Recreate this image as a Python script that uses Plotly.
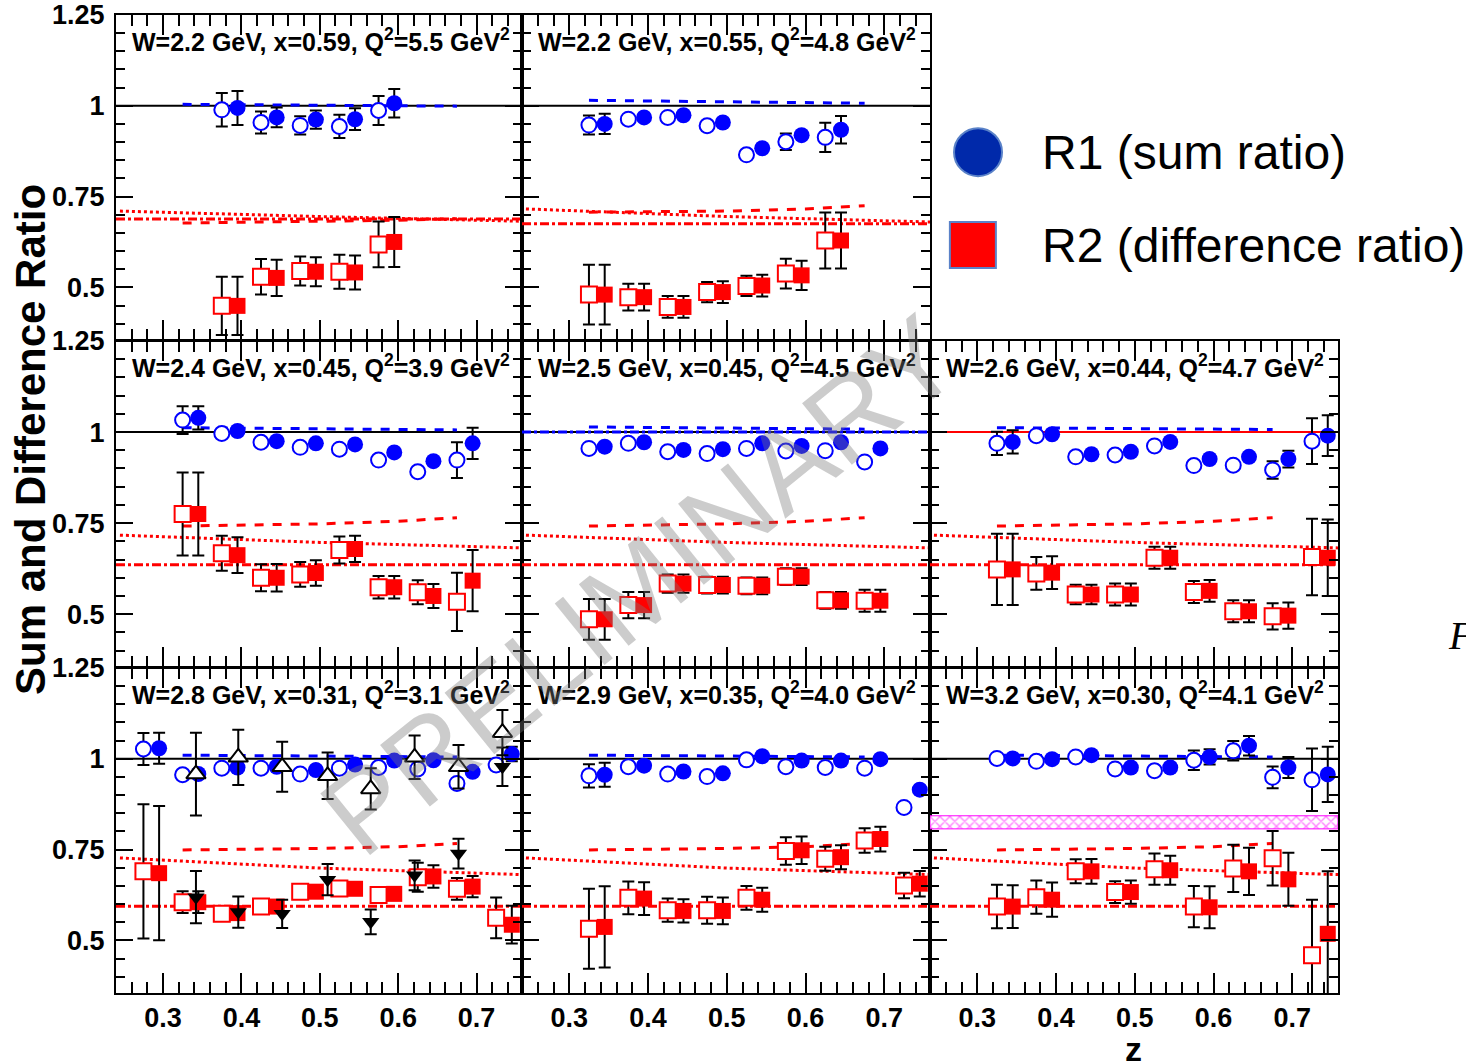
import plotly.graph_objects as go

W_PX, H_PX = 1466, 1061
DZ = 0.02  # filled points drawn slightly right of the open points

# ---------------- data ----------------
# Panel A: W=2.2, x=0.59
Z_A = [0.375, 0.425, 0.475, 0.525, 0.575]
R1O_A = [0.989, 0.954, 0.946, 0.943, 0.987]
R1OE_A = [0.046, 0.030, 0.025, 0.032, 0.040]
R1F_A = [0.994, 0.968, 0.962, 0.963, 1.007]
R1FE_A = [0.047, 0.027, 0.025, 0.030, 0.039]
R2O_A = [0.449, 0.529, 0.545, 0.543, 0.618]
R2OE_A = [0.080, 0.049, 0.040, 0.047, 0.063]
R2F_A = [0.449, 0.526, 0.543, 0.541, 0.625]
R2FE_A = [0.080, 0.050, 0.040, 0.047, 0.069]

# Panel B: W=2.2, x=0.55
Z_B = [0.325, 0.375, 0.425, 0.475, 0.525, 0.575, 0.625]
R1O_B = [0.947, 0.963, 0.968, 0.945, 0.865, 0.901, 0.913]
R1OE_B = [0.026, 0, 0, 0, 0, 0.023, 0.040]
R1F_B = [0.950, 0.968, 0.974, 0.954, 0.883, 0.919, 0.934]
R1FE_B = [0.028, 0, 0, 0, 0, 0, 0.038]
R2O_B = [0.480, 0.473, 0.446, 0.487, 0.504, 0.538, 0.629]
R2OE_B = [0.082, 0.037, 0.030, 0.028, 0.028, 0.041, 0.077]
R2F_B = [0.480, 0.473, 0.446, 0.487, 0.505, 0.533, 0.629]
R2FE_B = [0.082, 0.037, 0.030, 0.030, 0.030, 0.040, 0.077]

# Panel C: W=2.4, x=0.45
Z_C = [0.325, 0.375, 0.425, 0.475, 0.525, 0.575, 0.625, 0.675]
R1O_C = [1.033, 0.996, 0.972, 0.958, 0.953, 0.923, 0.891, 0.923]
R1OE_C = [0.038, 0, 0, 0, 0, 0, 0, 0.049]
R1F_C = [1.039, 1.003, 0.975, 0.969, 0.966, 0.944, 0.920, 0.969]
R1FE_C = [0.032, 0, 0, 0, 0, 0, 0, 0.043]
R2O_C = [0.775, 0.667, 0.600, 0.609, 0.676, 0.574, 0.560, 0.534]
R2OE_C = [0.114, 0.048, 0.037, 0.034, 0.037, 0.031, 0.033, 0.080]
R2F_C = [0.775, 0.662, 0.600, 0.613, 0.679, 0.574, 0.550, 0.592]
R2FE_C = [0.114, 0.049, 0.038, 0.035, 0.036, 0.031, 0.033, 0.084]

# Panel D: W=2.5, x=0.45
Z_D = [0.325, 0.375, 0.425, 0.475, 0.525, 0.575, 0.625, 0.675]
R1O_D = [0.955, 0.969, 0.946, 0.941, 0.955, 0.948, 0.949, 0.918]
R1OE_D = [0, 0, 0, 0, 0, 0, 0, 0]
R1F_D = [0.960, 0.972, 0.951, 0.953, 0.969, 0.962, 0.972, 0.955]
R1FE_D = [0, 0, 0, 0, 0, 0, 0, 0]
R2O_D = [0.486, 0.525, 0.584, 0.580, 0.578, 0.603, 0.538, 0.537]
R2OE_D = [0.056, 0.036, 0.025, 0.023, 0.023, 0.023, 0.023, 0.030]
R2F_D = [0.486, 0.525, 0.584, 0.580, 0.578, 0.603, 0.538, 0.537]
R2FE_D = [0.056, 0.036, 0.025, 0.023, 0.023, 0.023, 0.023, 0.030]

# Panel E: W=2.6, x=0.44
Z_E = [0.325, 0.375, 0.425, 0.475, 0.525, 0.575, 0.625, 0.675, 0.725]
R1O_E = [0.969, 0.990, 0.932, 0.937, 0.962, 0.908, 0.909, 0.896, 0.975]
R1OE_E = [0.032, 0, 0, 0, 0, 0, 0, 0.024, 0.063]
R1F_E = [0.973, 0.994, 0.939, 0.946, 0.973, 0.926, 0.932, 0.926, 0.990]
R1FE_E = [0.032, 0, 0, 0, 0, 0, 0, 0.023, 0.056]
R2O_E = [0.623, 0.612, 0.554, 0.554, 0.655, 0.561, 0.508, 0.494, 0.657]
R2OE_E = [0.098, 0.045, 0.027, 0.030, 0.030, 0.030, 0.030, 0.036, 0.105]
R2F_E = [0.623, 0.614, 0.554, 0.554, 0.655, 0.564, 0.508, 0.496, 0.655]
R2FE_E = [0.098, 0.045, 0.027, 0.030, 0.030, 0.030, 0.030, 0.036, 0.105]

# Panel F: W=2.8, x=0.31
Z_F = [0.275, 0.325, 0.375, 0.425, 0.475, 0.525, 0.575, 0.625, 0.675, 0.725]
R1O_F = [1.027, 0.956, 0.974, 0.974, 0.958, 0.974, 0.976, 0.972, 0.932, 0.983]
R1OE_F = [0.044, 0, 0, 0, 0, 0, 0, 0, 0, 0]
R1F_F = [1.029, 0.958, 0.976, 0.978, 0.969, 0.984, 0.995, 0.996, 0.964, 1.013]
R1FE_F = [0.043, 0, 0, 0, 0, 0, 0, 0, 0, 0.020]
R2O_F = [0.690, 0.605, 0.573, 0.593, 0.634, 0.643, 0.625, 0.674, 0.642, 0.562]
R2OE_F = [0.185, 0.030, 0, 0, 0, 0, 0, 0.040, 0.030, 0.056]
R2F_F = [0.685, 0.605, 0.575, 0.593, 0.634, 0.642, 0.628, 0.676, 0.648, 0.543]
R2FE_F = [0.185, 0.030, 0, 0, 0, 0, 0, 0.031, 0.029, 0.052]
# extra black triangles in panel F
ZT_F = [0.342, 0.396, 0.452, 0.510, 0.565, 0.621, 0.677, 0.733]
TUP_F = [0.958, 1.004, 0.978, 0.953, 0.917, 1.004, 0.978, 1.072]
TUPE_F = [0.114, 0.076, 0.069, 0.064, 0.057, 0.060, 0.060, 0.062]
TDN_F = [0.619, 0.578, 0.573, 0.667, 0.551, 0.679, 0.739, 0.978]
TDNE_F = [0.072, 0.043, 0.039, 0.043, 0.034, 0.041, 0.041, 0.053]

# Panel G: W=2.9, x=0.35
Z_G = [0.325, 0.375, 0.425, 0.475, 0.525, 0.575, 0.625, 0.675, 0.725]
R1O_G = [0.953, 0.978, 0.958, 0.951, 0.997, 0.978, 0.976, 0.974, 0.866]
R1OE_G = [0.032, 0, 0, 0, 0, 0, 0, 0, 0]
R1F_G = [0.956, 0.981, 0.965, 0.960, 1.007, 0.995, 0.995, 0.999, 0.915]
R1FE_G = [0.033, 0, 0, 0, 0, 0, 0, 0, 0]
R2O_G = [0.532, 0.617, 0.583, 0.583, 0.617, 0.746, 0.725, 0.775, 0.651]
R2OE_G = [0.110, 0.045, 0.032, 0.037, 0.033, 0.038, 0.033, 0.034, 0.035]
R2F_G = [0.537, 0.615, 0.581, 0.581, 0.612, 0.748, 0.729, 0.779, 0.656]
R2FE_G = [0.112, 0.045, 0.032, 0.037, 0.033, 0.038, 0.033, 0.034, 0.035]

# Panel H: W=3.2, x=0.30
Z_H = [0.325, 0.375, 0.425, 0.475, 0.525, 0.575, 0.625, 0.675, 0.725]
R1O_H = [1.001, 0.993, 1.005, 0.972, 0.967, 0.996, 1.022, 0.949, 0.942]
R1OE_H = [0, 0, 0, 0, 0, 0.027, 0.027, 0.030, 0.086]
R1F_H = [1.001, 0.999, 1.010, 0.976, 0.976, 1.005, 1.036, 0.976, 0.957]
R1FE_H = [0, 0, 0, 0, 0, 0.021, 0.027, 0.029, 0.076]
R2O_H = [0.593, 0.619, 0.690, 0.633, 0.696, 0.593, 0.698, 0.726, 0.459]
R2OE_H = [0.060, 0.046, 0.033, 0.030, 0.043, 0.057, 0.065, 0.075, 0.153]
R2F_H = [0.593, 0.612, 0.690, 0.633, 0.693, 0.591, 0.690, 0.668, 0.518]
R2FE_H = [0.059, 0.047, 0.034, 0.032, 0.040, 0.058, 0.065, 0.073, 0.172]
BAND_H = [0.807, 0.843]

# model curves
CURVE_BLUE_Z = [0.325, 0.5, 0.675]
CURVE_RDASH_Z = [0.325, 0.5, 0.6, 0.675]
CURVE_RDOT_Z = [0.245, 0.5, 0.758]
CURVE_RDD_Z = [0.24, 0.758]
BLUE_DASH = {'A': [1.004, 1.002, 0.999], 'B': [1.015, 1.012, 1.007], 'C': [1.012, 1.009, 1.006],
             'D': [1.014, 1.011, 1.008], 'E': [1.012, 1.010, 1.007], 'F': [1.010, 1.008, 1.005],
             'G': [1.010, 1.008, 1.005], 'H': [1.010, 1.008, 1.005]}
RED_DASH_ROW0A = [0.677, 0.681, 0.685, 0.689]
RED_DASH_ROW0B = [0.707, 0.710, 0.716, 0.725]
RED_DASH_ROW1 = [0.742, 0.748, 0.755, 0.765]
RED_DASH_ROW2 = [0.749, 0.753, 0.758, 0.767]
RED_DOT_ROW0A = [0.710, 0.695, 0.682]
RED_DOT_ROW0B = [0.716, 0.695, 0.680]
RED_DOT_ROW1 = [0.717, 0.697, 0.682]
RED_DOT_ROW2 = [0.727, 0.699, 0.681]
RED_DD_ROW0A = [0.688, 0.688]
RED_DD_ROW0B = [0.675, 0.675]
RED_DD_ROW1 = [0.636, 0.636]
RED_DD_ROW2 = [0.594, 0.594]

TITLES = {
    'A': "W=2.2 GeV, x=0.59, Q<sup>2</sup>=5.5 GeV<sup>2</sup>",
    'B': "W=2.2 GeV, x=0.55, Q<sup>2</sup>=4.8 GeV<sup>2</sup>",
    'C': "W=2.4 GeV, x=0.45, Q<sup>2</sup>=3.9 GeV<sup>2</sup>",
    'D': "W=2.5 GeV, x=0.45, Q<sup>2</sup>=4.5 GeV<sup>2</sup>",
    'E': "W=2.6 GeV, x=0.44, Q<sup>2</sup>=4.7 GeV<sup>2</sup>",
    'F': "W=2.8 GeV, x=0.31, Q<sup>2</sup>=3.1 GeV<sup>2</sup>",
    'G': "W=2.9 GeV, x=0.35, Q<sup>2</sup>=4.0 GeV<sup>2</sup>",
    'H': "W=3.2 GeV, x=0.30, Q<sup>2</sup>=4.1 GeV<sup>2</sup>",
}
X_TICKS = [0.3, 0.4, 0.5, 0.6, 0.7]
X_TICKTEXT = ["0.3", "0.4", "0.5", "0.6", "0.7"]
Y_TICKS = [0.5, 0.75, 1.0, 1.25]
Y_TICKTEXT = ["0.5", "0.75", "1", "1.25"]
X_RANGE = [0.24, 0.758]
Y_RANGE = [0.355, 1.25]

# ---------------- layout geometry ----------------
COL_PX = [(116, 522), (522, 930), (930, 1338)]
ROW_PX = [(15, 340), (341, 667), (668, 993)]

PANELS = [
    dict(k='A', r=0, c=0, z=Z_A, r1o=R1O_A, r1oe=R1OE_A, r1f=R1F_A, r1fe=R1FE_A, r2o=R2O_A, r2oe=R2OE_A, r2f=R2F_A, r2fe=R2FE_A,
         rdash=RED_DASH_ROW0A, rdot=RED_DOT_ROW0A, rdd=RED_DD_ROW0A),
    dict(k='B', r=0, c=1, z=Z_B, r1o=R1O_B, r1oe=R1OE_B, r1f=R1F_B, r1fe=R1FE_B, r2o=R2O_B, r2oe=R2OE_B, r2f=R2F_B, r2fe=R2FE_B,
         rdash=RED_DASH_ROW0B, rdot=RED_DOT_ROW0B, rdd=RED_DD_ROW0B),
    dict(k='C', r=1, c=0, z=Z_C, r1o=R1O_C, r1oe=R1OE_C, r1f=R1F_C, r1fe=R1FE_C, r2o=R2O_C, r2oe=R2OE_C, r2f=R2F_C, r2fe=R2FE_C,
         rdash=RED_DASH_ROW1, rdot=RED_DOT_ROW1, rdd=RED_DD_ROW1),
    dict(k='D', r=1, c=1, z=Z_D, r1o=R1O_D, r1oe=R1OE_D, r1f=R1F_D, r1fe=R1FE_D, r2o=R2O_D, r2oe=R2OE_D, r2f=R2F_D, r2fe=R2FE_D,
         rdash=RED_DASH_ROW1, rdot=RED_DOT_ROW1, rdd=RED_DD_ROW1),
    dict(k='E', r=1, c=2, z=Z_E, r1o=R1O_E, r1oe=R1OE_E, r1f=R1F_E, r1fe=R1FE_E, r2o=R2O_E, r2oe=R2OE_E, r2f=R2F_E, r2fe=R2FE_E,
         rdash=RED_DASH_ROW1, rdot=RED_DOT_ROW1, rdd=RED_DD_ROW1),
    dict(k='F', r=2, c=0, z=Z_F, r1o=R1O_F, r1oe=R1OE_F, r1f=R1F_F, r1fe=R1FE_F, r2o=R2O_F, r2oe=R2OE_F, r2f=R2F_F, r2fe=R2FE_F,
         rdash=RED_DASH_ROW2, rdot=RED_DOT_ROW2, rdd=RED_DD_ROW2),
    dict(k='G', r=2, c=1, z=Z_G, r1o=R1O_G, r1oe=R1OE_G, r1f=R1F_G, r1fe=R1FE_G, r2o=R2O_G, r2oe=R2OE_G, r2f=R2F_G, r2fe=R2FE_G,
         rdash=RED_DASH_ROW2, rdot=RED_DOT_ROW2, rdd=RED_DD_ROW2),
    dict(k='H', r=2, c=2, z=Z_H, r1o=R1O_H, r1oe=R1OE_H, r1f=R1F_H, r1fe=R1FE_H, r2o=R2O_H, r2oe=R2OE_H, r2f=R2F_H, r2fe=R2FE_H,
         rdash=RED_DASH_ROW2, rdot=RED_DOT_ROW2, rdd=RED_DD_ROW2),
]

BLUE = "rgb(0,0,255)"
RED = "rgb(255,0,0)"
FONT = "Liberation Sans, Arial, Helvetica, sans-serif"


def errbar(arr):
    return dict(type='data', array=arr, color='black', thickness=2, width=6, visible=True)


fig = go.Figure()
layout = dict(
    width=W_PX, height=H_PX, margin=dict(l=0, r=0, t=0, b=0, autoexpand=False),
    paper_bgcolor='white', plot_bgcolor='white', showlegend=False,
    font=dict(family=FONT, color='black'),
)
annotations = []
shapes = []

for i, p in enumerate(PANELS, start=1):
    xa = 'x' if i == 1 else f'x{i}'
    ya = 'y' if i == 1 else f'y{i}'
    xk = 'xaxis' if i == 1 else f'xaxis{i}'
    yk = 'yaxis' if i == 1 else f'yaxis{i}'
    c0, c1 = COL_PX[p['c']]
    r0, r1 = ROW_PX[p['r']]
    layout[xk] = dict(
        domain=[c0 / W_PX, c1 / W_PX], anchor=ya, range=X_RANGE, automargin=False,
        tickmode='array', tickvals=X_TICKS, ticktext=X_TICKTEXT,
        showticklabels=(p['r'] == 2),
        ticks='inside', ticklen=20, tickwidth=2, tickcolor='black',
        minor=dict(dtick=0.02, tick0=0, ticks='inside', ticklen=11, tickwidth=2, tickcolor='black'),
        showline=True, linewidth=2, linecolor='black', mirror='allticks',
        showgrid=False, zeroline=False,
        tickfont=dict(family=FONT, size=27, color='black', weight='bold'),
    )
    layout[yk] = dict(
        domain=[1 - r1 / H_PX, 1 - r0 / H_PX], anchor=xa, range=Y_RANGE, automargin=False,
        tickmode='array', tickvals=Y_TICKS, ticktext=Y_TICKTEXT,
        showticklabels=(p['c'] == 0),
        ticks='inside', ticklen=17, tickwidth=2, tickcolor='black',
        minor=dict(dtick=0.05, tick0=0, ticks='inside', ticklen=9, tickwidth=2, tickcolor='black'),
        showline=True, linewidth=2, linecolor='black', mirror='allticks',
        showgrid=False, zeroline=False, ticklabelstandoff=4,
        tickfont=dict(family=FONT, size=27, color='black', weight='bold'),
    )
    # reference line at 1
    shapes.append(dict(type='line', xref=f'{xa} domain', yref=ya, x0=0, x1=1, y0=1, y1=1,
                       line=dict(color=RED if p['k'] == 'E' else 'black', width=2), layer='below'))
    if p['k'] == 'D':
        shapes.append(dict(type='line', xref=f'{xa} domain', yref=ya, x0=0, x1=1, y0=1.0, y1=1.0,
                           line=dict(color=BLUE, width=3, dash='dashdot'), layer='above'))
    # model curves
    fig.add_trace(go.Scatter(x=CURVE_BLUE_Z, y=BLUE_DASH[p['k']], mode='lines', xaxis=xa, yaxis=ya,
                             line=dict(color=BLUE, width=3, dash='dash')))
    fig.add_trace(go.Scatter(x=CURVE_RDASH_Z, y=p['rdash'], mode='lines', xaxis=xa, yaxis=ya,
                             line=dict(color=RED, width=3, dash='dash')))
    fig.add_trace(go.Scatter(x=CURVE_RDOT_Z, y=p['rdot'], mode='lines', xaxis=xa, yaxis=ya,
                             line=dict(color=RED, width=3, dash='dot')))
    fig.add_trace(go.Scatter(x=CURVE_RDD_Z, y=p['rdd'], mode='lines', xaxis=xa, yaxis=ya,
                             line=dict(color=RED, width=3, dash='dashdot')))
    if p['k'] == 'H':
        fig.add_trace(go.Scatter(x=[X_RANGE[0], X_RANGE[1], X_RANGE[1], X_RANGE[0], X_RANGE[0]],
                                 y=[BAND_H[0], BAND_H[0], BAND_H[1], BAND_H[1], BAND_H[0]],
                                 mode='lines', fill='toself', xaxis=xa, yaxis=ya,
                                 line=dict(color='rgb(255,0,255)', width=1),
                                 fillcolor='rgba(255,255,255,0)',
                                 fillpattern=dict(shape='x', fgcolor='rgb(255,0,255)', bgcolor='white',
                                                  size=7, solidity=0.35)))
    zf = [z + DZ for z in p['z']]
    # R2 (difference ratio)
    fig.add_trace(go.Scatter(x=p['z'], y=p['r2o'], mode='markers', xaxis=xa, yaxis=ya,
                             error_y=errbar(p['r2oe']),
                             marker=dict(symbol='square', size=16, color='white', line=dict(color=RED, width=2))))
    fig.add_trace(go.Scatter(x=zf, y=p['r2f'], mode='markers', xaxis=xa, yaxis=ya,
                             error_y=errbar(p['r2fe']),
                             marker=dict(symbol='square', size=16, color=RED, line=dict(width=0))))
    # R1 (sum ratio)
    fig.add_trace(go.Scatter(x=p['z'], y=p['r1o'], mode='markers', xaxis=xa, yaxis=ya,
                             error_y=errbar(p['r1oe']),
                             marker=dict(symbol='circle', size=15, color='white', line=dict(color=BLUE, width=2))))
    fig.add_trace(go.Scatter(x=zf, y=p['r1f'], mode='markers', xaxis=xa, yaxis=ya,
                             error_y=errbar(p['r1fe']),
                             marker=dict(symbol='circle', size=16, color=BLUE, line=dict(width=0))))
    if p['k'] == 'F':
        fig.add_trace(go.Scatter(x=ZT_F, y=TDN_F, mode='markers', xaxis=xa, yaxis=ya,
                                 error_y=errbar(TDNE_F),
                                 marker=dict(symbol='triangle-down', size=15, color='black', line=dict(width=0))))
        fig.add_trace(go.Scatter(x=ZT_F, y=TUP_F, mode='markers', xaxis=xa, yaxis=ya,
                                 error_y=errbar(TUPE_F),
                                 marker=dict(symbol='triangle-up', size=17, color='white',
                                             line=dict(color='black', width=2))))
    # panel label
    annotations.append(dict(text=TITLES[p['k']], xref=f'{xa} domain', yref=f'{ya} domain',
                            x=14 / (c1 - c0), y=1 - 25 / (r1 - r0), xanchor='left', yanchor='middle',
                            showarrow=False, font=dict(family=FONT, size=25, color='black', weight='bold')))

# legend area (hidden axis in the empty top-right cell)
layout['xaxis9'] = dict(domain=[930 / W_PX, 1.0], range=[0, 1], visible=False, anchor='y9', automargin=False)
layout['yaxis9'] = dict(domain=[1 - 340 / H_PX, 1 - 15 / H_PX], range=[0, 1], visible=False, anchor='x9',
                        automargin=False)
LEG_X = [0.0896, 0.080]
LEG_Y = [0.578, 0.292]
fig.add_trace(go.Scatter(x=[LEG_X[0]], y=[LEG_Y[0]], mode='markers', xaxis='x9', yaxis='y9', cliponaxis=False,
                         marker=dict(symbol='circle', size=48, color='rgb(0,41,170)',
                                     line=dict(color='rgb(90,130,200)', width=2))))
fig.add_trace(go.Scatter(x=[LEG_X[1]], y=[LEG_Y[1]], mode='markers', xaxis='x9', yaxis='y9', cliponaxis=False,
                         marker=dict(symbol='square', size=46, color='rgb(255,0,0)',
                                     line=dict(color='rgb(90,130,200)', width=2))))
annotations.append(dict(text="R1 (sum ratio)", xref='paper', yref='paper', x=1040 / W_PX, y=1 - 152 / H_PX,
                        xanchor='left', yanchor='middle', showarrow=False,
                        font=dict(family=FONT, size=48, color='black')))
annotations.append(dict(text="R2 (difference ratio)", xref='paper', yref='paper', x=1040 / W_PX, y=1 - 245 / H_PX,
                        xanchor='left', yanchor='middle', showarrow=False,
                        font=dict(family=FONT, size=48, color='black')))

# axis titles
annotations.append(dict(text="Sum and Difference Ratio", xref='paper', yref='paper', x=30 / W_PX, y=1 - 440 / H_PX,
                        xanchor='center', yanchor='middle', textangle=-90, showarrow=False,
                        font=dict(family=FONT, size=42, color='black', weight='bold')))
annotations.append(dict(text="z", xref='paper', yref='paper', x=1133 / W_PX, y=1 - 1049 / H_PX,
                        xanchor='center', yanchor='middle', showarrow=False, borderpad=0,
                        font=dict(family=FONT, size=34, color='black', weight='bold')))
# stray glyph at right edge
annotations.append(dict(text="<i>F</i>", xref='paper', yref='paper', x=1446 / W_PX, y=1 - 635 / H_PX,
                        xanchor='left', yanchor='middle', showarrow=False,
                        font=dict(family="Liberation Serif, serif", size=40, color='black')))
# watermark
annotations.append(dict(text="PRELIMINARY", xref='paper', yref='paper', x=640 / W_PX, y=1 - 585 / H_PX,
                        xanchor='center', yanchor='middle', textangle=-39, showarrow=False,
                        font=dict(family=FONT, size=115, color='rgba(120,120,120,0.38)')))

layout['annotations'] = annotations
layout['shapes'] = shapes
fig.update_layout(**layout)
fig.write_html("out.html")
